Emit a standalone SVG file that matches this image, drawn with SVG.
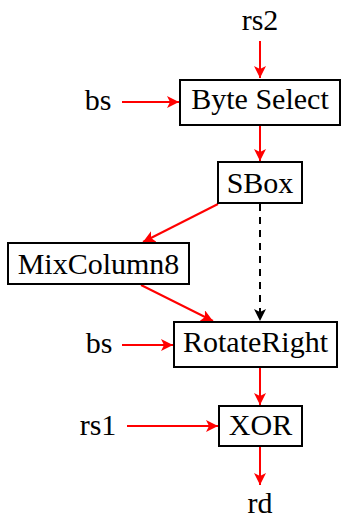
<svg xmlns="http://www.w3.org/2000/svg" width="347" height="520" viewBox="0 0 347 520">
<style>
text{font-family:"Liberation Serif","Times New Roman",serif;font-size:30px;fill:#000;text-anchor:middle}
.box{fill:#fff;stroke:#000;stroke-width:2}
.r{stroke:#ff0000;stroke-width:2;fill:none;marker-end:url(#ar)}
.k{stroke:#000;stroke-width:2;fill:none;stroke-dasharray:7,6;marker-end:url(#ak)}
</style>
<defs>
<marker id="ar" markerUnits="userSpaceOnUse" markerWidth="14" markerHeight="12" refX="12" refY="6" orient="auto"><path d="M0,0 L12,6 L0,12 L3,6 Z" fill="#ff0000"/></marker>
<marker id="ak" markerUnits="userSpaceOnUse" markerWidth="14" markerHeight="12" refX="12" refY="6" orient="auto"><path d="M0,0 L12,6 L0,12 L3,6 Z" fill="#000"/></marker>
</defs>
<rect width="347" height="520" fill="#fff"/>
<g id="connectors">
<line class="r" x1="260" y1="41" x2="260" y2="78"/>
<line class="r" x1="122" y1="102" x2="179" y2="102"/>
<line class="r" x1="260" y1="125" x2="260" y2="161"/>
<line class="r" x1="218" y1="204" x2="143" y2="242"/>
<line class="k" x1="260" y1="204" x2="260" y2="321"/>
<line class="r" x1="141" y1="285" x2="213" y2="321"/>
<line class="r" x1="122" y1="345" x2="173" y2="345"/>
<line class="r" x1="260" y1="368" x2="260" y2="405"/>
<line class="r" x1="127" y1="426" x2="218" y2="426"/>
<line class="r" x1="260" y1="447" x2="260" y2="485"/>
</g>
<g id="rs2"><text x="260" y="30">rs2</text></g>
<g id="bs1"><text x="98" y="110">bs</text></g>
<g id="byteselect"><rect class="box" x="180" y="80" width="160" height="45"/><text x="260" y="109">Byte Select</text></g>
<g id="sbox"><rect class="box" x="218" y="162" width="84" height="41"/><text x="260" y="193">SBox</text></g>
<g id="mixcolumn8"><rect class="box" x="8" y="243" width="181" height="41"/><text x="98.5" y="274">MixColumn8</text></g>
<g id="bs2"><text x="99" y="353">bs</text></g>
<g id="rotateright"><rect class="box" x="174" y="322" width="163" height="45"/><text x="255.5" y="352">RotateRight</text></g>
<g id="rs1"><text x="98" y="435">rs1</text></g>
<g id="xor"><rect class="box" x="219" y="406" width="83" height="40"/><text x="260.5" y="435">XOR</text></g>
<g id="rd"><text x="260" y="513">rd</text></g>
</svg>
